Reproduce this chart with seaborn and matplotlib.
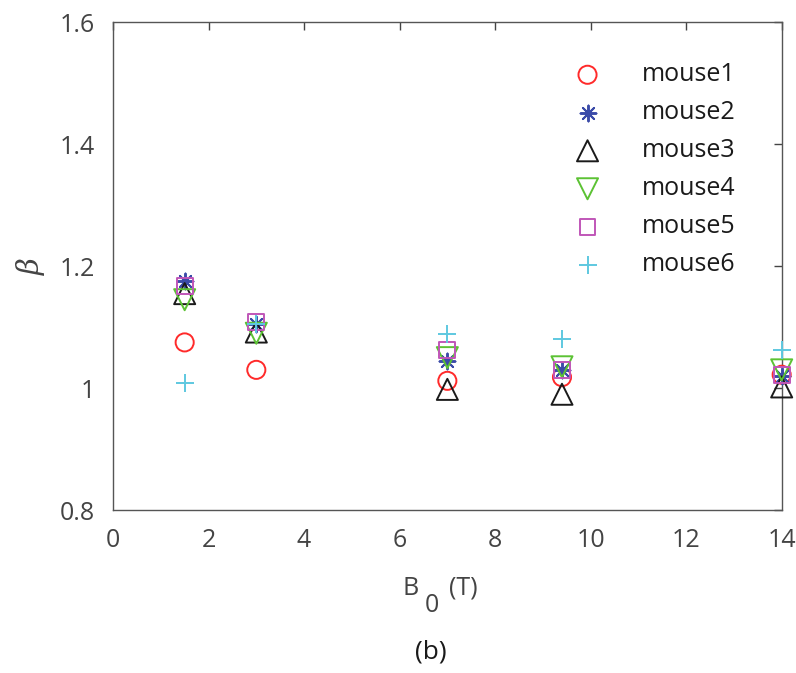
import matplotlib
matplotlib.use('Agg')
import matplotlib.pyplot as plt
import seaborn as sns

field = [1.5, 3, 7, 9.4, 14]
mouse1 = [1.075, 1.030, 1.012, 1.018, 1.022]
mouse2 = [1.175, 1.105, 1.045, 1.030, 1.020]
mouse3 = [1.155, 1.092, 0.998, 0.990, 1.002]
mouse4 = [1.145, 1.090, 1.050, 1.035, 1.030]
mouse5 = [1.168, 1.108, 1.062, 1.030, 1.022]
mouse6 = [1.008, 1.105, 1.088, 1.080, 1.062]
labels = ['mouse1', 'mouse2', 'mouse3', 'mouse4', 'mouse5', 'mouse6']

sns.set_style('white')
plt.rcParams['font.family'] = ['Open Sans', 'DejaVu Sans']
plt.rcParams['mathtext.fontset'] = 'custom'
plt.rcParams['mathtext.rm'] = 'Open Sans'
plt.rcParams['mathtext.it'] = 'DejaVu Serif:italic'

series = [mouse1, mouse2, mouse3, mouse4, mouse5, mouse6]
styles = [
    ('o', '#ff2a2a', 170, True),
    ((8, 2, 0), '#3b4ba8', 130, False),
    ('^', '#1a1a1a', 230, True),
    ('v', '#5cc234', 230, True),
    ('s', '#c056b8', 130, True),
    ('+', '#5ec8e0', 180, False),
]

fig = plt.figure(figsize=(7.96, 6.73), dpi=100)
ax = fig.add_axes([0.142, 0.242, 0.84, 0.725])

for vals, lab, (mk, col, sz, hollow) in zip(series, labels, styles):
    if hollow:
        sns.scatterplot(x=field, y=vals, ax=ax, marker=mk, s=sz, facecolors='none',
                        edgecolors=col, linewidths=1.4, label=lab, clip_on=False, zorder=3)
    else:
        sns.scatterplot(x=field, y=vals, ax=ax, marker=mk, s=sz, color=col,
                        linewidths=1.4, label=lab, clip_on=False, zorder=3)

ax.set_xlim(0, 14)
ax.set_ylim(0.8, 1.6)
ax.set_xticks([0, 2, 4, 6, 8, 10, 12, 14])
ax.set_yticks([0.8, 1.0, 1.2, 1.4, 1.6])
ax.set_yticklabels(['0.8', '1', '1.2', '1.4', '1.6'])
ax.tick_params(direction='in', length=6, width=1, colors='#444444', labelsize=18,
               top=True, right=True)
ax.tick_params(axis='x', pad=13)
ax.tick_params(axis='y', pad=13)
for sp in ax.spines.values():
    sp.set_visible(True)
    sp.set_color('#555555')
    sp.set_linewidth(1)

# x label drawn in pieces so the subscript stays full size like the original
ax.set_xlabel('')
fig.text(0.506, 0.116, 'B', fontsize=18, color='#444444', va='baseline')
fig.text(0.534, 0.090, '0', fontsize=18, color='#444444', va='baseline')
fig.text(0.564, 0.116, '(T)', fontsize=18, color='#444444', va='baseline')
ax.set_ylabel(r'$\beta$', fontsize=21, color='#444444', labelpad=9)

leg = ax.legend(loc='upper right', frameon=False, fontsize=18, labelspacing=0.52,
                handletextpad=1.16, borderaxespad=0.6, bbox_to_anchor=(0.968, 0.969))
for t in leg.get_texts():
    t.set_color('#1a1a1a')

fig.text(0.541, 0.022, '(b)', fontsize=19, color='#1a1a1a', ha='center', va='baseline')

fig.savefig('out.png', dpi=100)
